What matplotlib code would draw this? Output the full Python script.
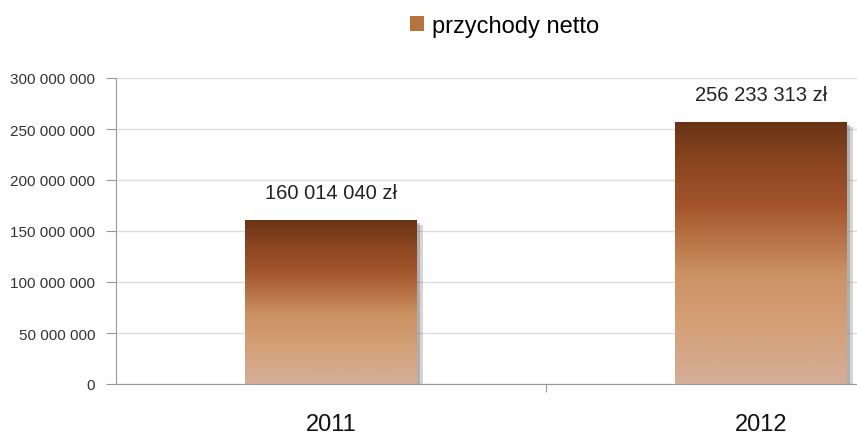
import matplotlib.pyplot as plt
import matplotlib.patheffects as pe
from matplotlib.colors import LinearSegmentedColormap
from matplotlib.patches import Patch
import numpy as np

years = ["2011", "2012"]
revenue = [160014040, 256233313]
value_labels = ["160 014 040 zł", "256 233 313 zł"]
series_name = "przychody netto"

plt.rcParams['font.family'] = ['Liberation Sans', 'DejaVu Sans']

cmap = LinearSegmentedColormap.from_list(
    "brown", [(0.0, "#d4ae98"), (0.2, "#d4a27a"), (0.42, "#cc9262"),
              (0.68, "#a4552b"), (0.85, "#8a451f"), (1.0, "#683416")])

fig = plt.figure(figsize=(8.57, 4.35), dpi=100)
ax = fig.add_axes([116 / 857, 50 / 435, 860 / 857, 306 / 435])

x = np.arange(len(years))
bars = ax.bar(x, revenue, width=0.4, color="#b06a3a", zorder=3,
              path_effects=[pe.SimplePatchShadow(offset=(4, -3), shadow_rgbFace="#777777", alpha=0.3),
                            pe.SimplePatchShadow(offset=(2, -1.5), shadow_rgbFace="#777777", alpha=0.4),
                            pe.Normal()])
grad = np.linspace(0, 1, 256).reshape(-1, 1)
for b in bars:
    x0, w, h = b.get_x(), b.get_width(), b.get_height()
    ax.imshow(grad, extent=[x0, x0 + w, 0, h], origin="lower", cmap=cmap,
              aspect="auto", zorder=4)

for xi, v, lab in zip(x, revenue, value_labels):
    ax.annotate(lab, (xi, v), xytext=(0, 20.5), textcoords="offset points",
                ha="center", va="center", fontsize=14.5, color="#222222")

ax.set_xlim(-0.5, 1.5)
ax.set_ylim(0, 300e6)
ax.set_yticks(np.arange(0, 300e6 + 1, 50e6))
ax.set_yticklabels(["{:,}".format(int(t)).replace(",", " ") for t in ax.get_yticks()],
                   fontsize=11, color="#333333")
ax.set_xticks([0.5])
ax.set_xticklabels([])
for xi, yr in zip(x, years):
    ax.annotate(yr, (xi, 0), xytext=(0, -29), textcoords="offset points",
                ha="center", va="center", fontsize=17, color="#111111",
                annotation_clip=False)
ax.tick_params(axis="y", length=7, color="#999999", pad=8)
ax.tick_params(axis="x", length=6, color="#999999", direction="out")
ax.grid(axis="y", color="#dddddd", linewidth=1, zorder=0)
for s in ["top", "right"]:
    ax.spines[s].set_visible(False)
ax.spines["left"].set_color("#999999")
ax.spines["bottom"].set_color("#999999")

fig.legend(handles=[Patch(facecolor="#b5733f", edgecolor="none")], labels=[series_name],
           loc="center", bbox_to_anchor=(0.589, 0.938), frameon=False, fontsize=17,
           handlelength=0.6, handleheight=0.6, handletextpad=0.35)

plt.savefig("out.png", dpi=100)
plt.close()
